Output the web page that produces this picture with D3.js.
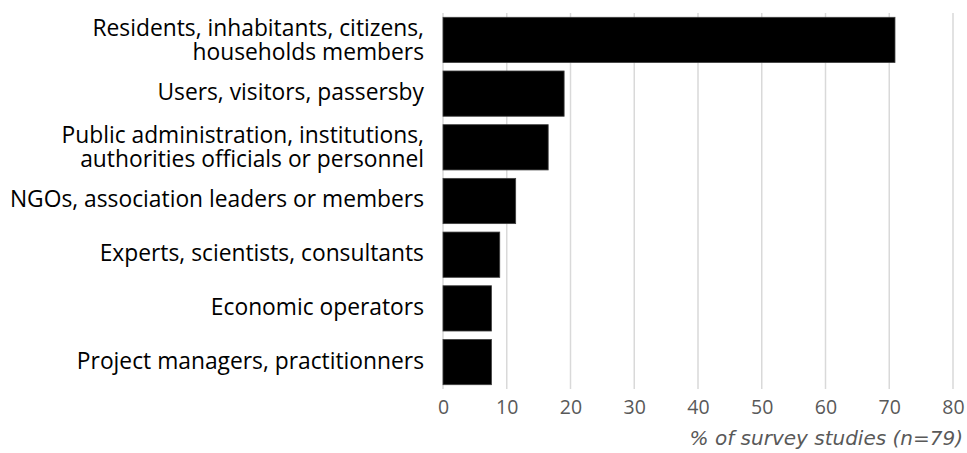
<!DOCTYPE html>
<html>
<head>
<meta charset="utf-8">
<script src="https://cdn.jsdelivr.net/npm/d3@7"></script>
<style>
  body { margin: 0; background: #fff; }
  .cat { font-family: "Open Sans", sans-serif; font-size: 22.8px; fill: #000; }
  .tick text { font-family: "Open Sans", sans-serif; font-size: 19.5px; fill: #595959; }
  .title { font-family: "DejaVu Sans", sans-serif; font-size: 20px; font-style: italic; fill: #595959; }
</style>
</head>
<body>
<div id="chart"></div>
<script>
  // categories (lines of each label) and values in %
  var categories = [
    ['Residents, inhabitants, citizens,', 'households members'],
    ['Users, visitors, passersby'],
    ['Public administration, institutions,', 'authorities officials or personnel'],
    ['NGOs, association leaders or members'],
    ['Experts, scientists, consultants'],
    ['Economic operators'],
    ['Project managers, practitionners']
  ];
  var values = [70.9, 19.0, 16.5, 11.4, 8.9, 7.6, 7.6];
  var ticks = [0, 10, 20, 30, 40, 50, 60, 70, 80];
  var axisTitle = '% of survey studies (n=79)';

  var width = 967, height = 453;
  var margin = {top: 13, right: 14, bottom: 64, left: 443};

  var svg = d3.select('#chart').append('svg')
    .attr('width', width)
    .attr('height', height);

  var x = d3.scaleLinear()
    .domain([0, 80])
    .range([margin.left, width - margin.right]);

  var y = d3.scaleBand()
    .domain(d3.range(categories.length))
    .range([margin.top, height - margin.bottom])
    .paddingInner(0.157)
    .paddingOuter(0.08);

  // gridlines
  svg.append('g')
    .selectAll('line')
    .data(ticks)
    .enter()
    .append('line')
    .attr('x1', function(d){ return x(d); })
    .attr('x2', function(d){ return x(d); })
    .attr('y1', margin.top)
    .attr('y2', height - margin.bottom)
    .style('stroke', '#d9d9d9')
    .style('stroke-width', '1.5px');

  svg.append('g')
    .selectAll('rect')
    .data(values)
    .enter()
    .append('rect')
    .attr('x', x(0))
    .attr('y', function(d, i){ return y(i); })
    .attr('width', function(d){ return x(d) - x(0); })
    .attr('height', y.bandwidth())
    .style('fill', '#000')
    .style('stroke', '#404040')
    .style('stroke-width', '0.8px');

  // category labels
  var lineH = 24;
  var labels = svg.append('g')
    .selectAll('text')
    .data(categories)
    .enter()
    .append('text')
    .attr('class', 'cat')
    .attr('text-anchor', 'end');
  labels.each(function(lines, i){
    var cy = y(i) + y.bandwidth() / 2 + (lines.length > 1 ? 0 : -1.5);
    var start = cy - (lines.length - 1) * lineH / 2;
    d3.select(this).selectAll('tspan')
      .data(lines)
      .enter()
      .append('tspan')
      .attr('x', 424)
      .attr('y', function(d, j){ return start + j * lineH; })
      .attr('dy', '0.35em')
      .text(function(d){ return d; });
  });

  // x axis (labels only)
  var xAxis = d3.axisBottom(x)
    .tickValues(ticks)
    .tickSize(0)
    .tickPadding(11);
  var ax = svg.append('g')
    .attr('transform', 'translate(0,' + (height - margin.bottom) + ')')
    .call(xAxis);
  ax.select('.domain').remove();

  svg.append('text')
    .attr('class', 'title')
    .attr('text-anchor', 'end')
    .attr('x', 963)
    .attr('y', 445)
    .text(axisTitle);
</script>
</body>
</html>
